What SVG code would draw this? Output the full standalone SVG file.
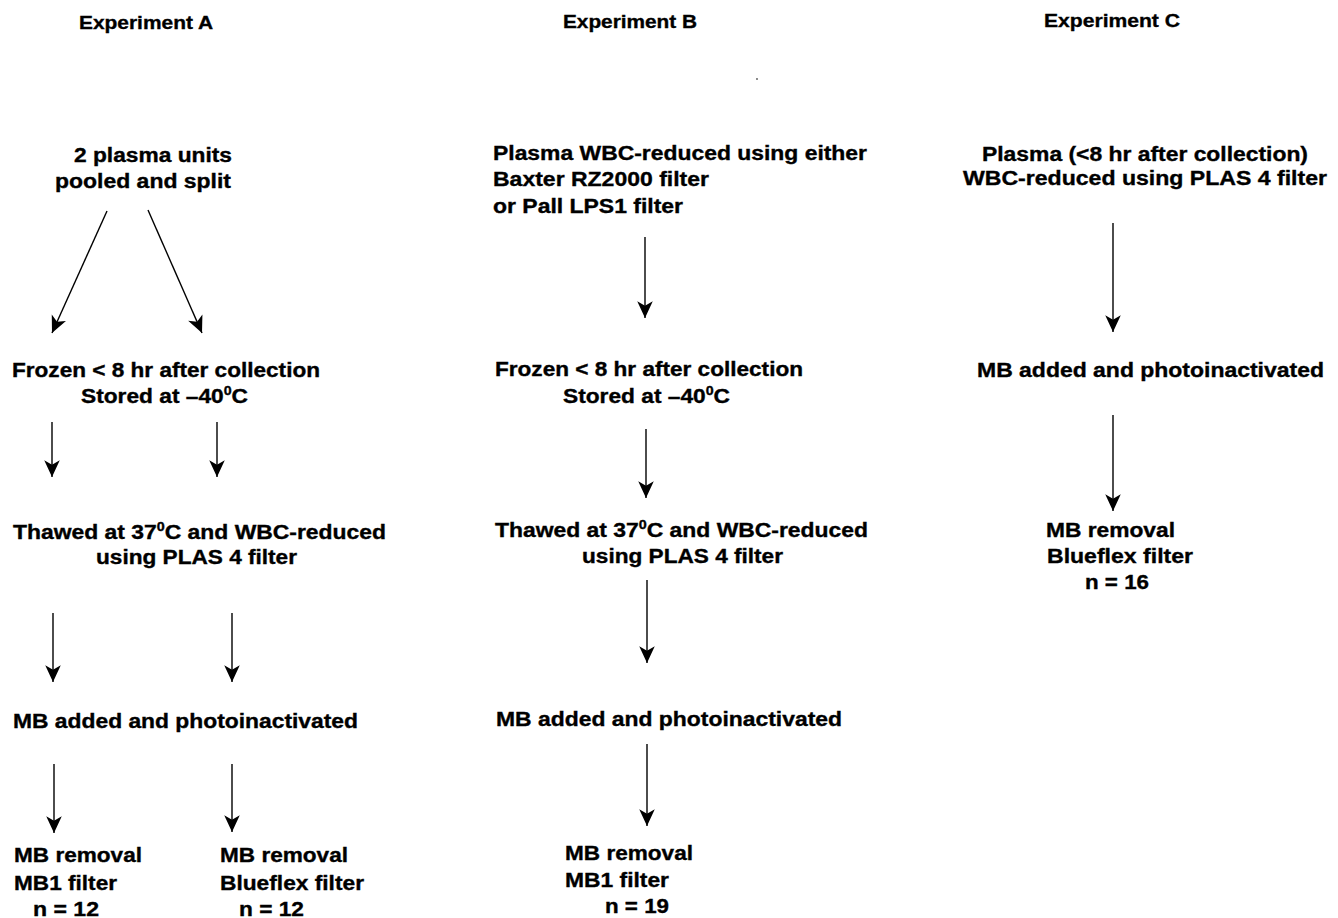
<svg xmlns="http://www.w3.org/2000/svg" width="1338" height="918" viewBox="0 0 1338 918">
<style>
text{font-family:"Liberation Sans",Arial,Helvetica,sans-serif;font-weight:bold;font-size:20px;fill:#000;stroke:#000;stroke-width:0.35}
.sup{font-size:12.5px}
.c{stroke:#000;stroke-width:1.4;fill:none}
</style>
<defs>
<marker id="ah" markerUnits="userSpaceOnUse" markerWidth="20" markerHeight="20" viewBox="-16 -8 18 16" refX="0" refY="0" orient="auto">
<path d="M0,0 L-15,-7 L-11,0 L-15,7 Z" fill="#000"/>
</marker>
</defs>
<rect width="1338" height="918" fill="#fff"/>

<g id="expA">
<g id="titleA"><text x="79" y="29" textLength="134" lengthAdjust="spacingAndGlyphs" style="font-size:18.5px">Experiment A</text></g>
<g id="a1"><text x="74" y="162" textLength="158" lengthAdjust="spacingAndGlyphs">2 plasma units</text><text x="55" y="188" textLength="176" lengthAdjust="spacingAndGlyphs">pooled and split</text></g>
<g id="a2"><text x="12" y="377" textLength="308" lengthAdjust="spacingAndGlyphs">Frozen &lt; 8 hr after collection</text><text x="81" y="403" textLength="167" lengthAdjust="spacingAndGlyphs">Stored at –40<tspan class="sup" dy="-8">0</tspan><tspan dy="8">C</tspan></text></g>
<g id="a3"><text x="13" y="539" textLength="373" lengthAdjust="spacingAndGlyphs">Thawed at 37<tspan class="sup" dy="-8">0</tspan><tspan dy="8">C and WBC-reduced</tspan></text><text x="96" y="564" textLength="201" lengthAdjust="spacingAndGlyphs">using PLAS 4 filter</text></g>
<g id="a4"><text x="13" y="728" textLength="345" lengthAdjust="spacingAndGlyphs">MB added and photoinactivated</text></g>
<g id="a5"><text x="14" y="862" textLength="128" lengthAdjust="spacingAndGlyphs">MB removal</text><text x="14" y="890" textLength="103" lengthAdjust="spacingAndGlyphs">MB1 filter</text><text x="33" y="916" textLength="66" lengthAdjust="spacingAndGlyphs">n = 12</text></g>
<g id="a6"><text x="220" y="862" textLength="128" lengthAdjust="spacingAndGlyphs">MB removal</text><text x="220" y="890" textLength="144" lengthAdjust="spacingAndGlyphs">Blueflex filter</text><text x="239" y="916" textLength="65" lengthAdjust="spacingAndGlyphs">n = 12</text></g>
</g>

<g id="expB">
<g id="titleB"><text x="563" y="28" textLength="134" lengthAdjust="spacingAndGlyphs" style="font-size:18.5px">Experiment B</text></g>
<g id="b1"><text x="493" y="160" textLength="374" lengthAdjust="spacingAndGlyphs">Plasma WBC-reduced using either</text><text x="493" y="186" textLength="216" lengthAdjust="spacingAndGlyphs">Baxter RZ2000 filter</text><text x="493" y="213" textLength="190" lengthAdjust="spacingAndGlyphs">or Pall LPS1 filter</text></g>
<g id="b2"><text x="495" y="376" textLength="308" lengthAdjust="spacingAndGlyphs">Frozen &lt; 8 hr after collection</text><text x="563" y="403" textLength="167" lengthAdjust="spacingAndGlyphs">Stored at –40<tspan class="sup" dy="-8">0</tspan><tspan dy="8">C</tspan></text></g>
<g id="b3"><text x="495" y="537" textLength="373" lengthAdjust="spacingAndGlyphs">Thawed at 37<tspan class="sup" dy="-8">0</tspan><tspan dy="8">C and WBC-reduced</tspan></text><text x="582" y="563" textLength="201" lengthAdjust="spacingAndGlyphs">using PLAS 4 filter</text></g>
<g id="b4"><text x="496" y="726" textLength="346" lengthAdjust="spacingAndGlyphs">MB added and photoinactivated</text></g>
<g id="b5"><text x="565" y="860" textLength="128" lengthAdjust="spacingAndGlyphs">MB removal</text><text x="565" y="887" textLength="104" lengthAdjust="spacingAndGlyphs">MB1 filter</text><text x="605" y="913" textLength="64" lengthAdjust="spacingAndGlyphs">n = 19</text></g>
<circle cx="757" cy="79" r="0.9" fill="#555"/>
</g>

<g id="expC">
<g id="titleC"><text x="1044" y="27" textLength="136" lengthAdjust="spacingAndGlyphs" style="font-size:18.5px">Experiment C</text></g>
<g id="c1"><text x="982" y="161" textLength="326" lengthAdjust="spacingAndGlyphs">Plasma (&lt;8 hr after collection)</text><text x="963" y="185" textLength="364" lengthAdjust="spacingAndGlyphs">WBC-reduced using PLAS 4 filter</text></g>
<g id="c2"><text x="977" y="377" textLength="347" lengthAdjust="spacingAndGlyphs">MB added and photoinactivated</text></g>
<g id="c3"><text x="1046" y="537" textLength="129" lengthAdjust="spacingAndGlyphs">MB removal</text><text x="1047" y="563" textLength="146" lengthAdjust="spacingAndGlyphs">Blueflex filter</text><text x="1085" y="589" textLength="64" lengthAdjust="spacingAndGlyphs">n = 16</text></g>
</g>

<g id="connectors">
<line class="c" x1="107" y1="211" x2="52" y2="333" marker-end="url(#ah)"/>
<line class="c" x1="148" y1="210" x2="202" y2="333" marker-end="url(#ah)"/>
<line class="c" x1="52" y1="422" x2="52" y2="477" marker-end="url(#ah)"/>
<line class="c" x1="217" y1="422" x2="217" y2="477" marker-end="url(#ah)"/>
<line class="c" x1="53" y1="613" x2="53" y2="682" marker-end="url(#ah)"/>
<line class="c" x1="232" y1="613" x2="232" y2="682" marker-end="url(#ah)"/>
<line class="c" x1="54" y1="764" x2="54" y2="833" marker-end="url(#ah)"/>
<line class="c" x1="232" y1="764" x2="232" y2="832" marker-end="url(#ah)"/>
<line class="c" x1="645" y1="237" x2="645" y2="318" marker-end="url(#ah)"/>
<line class="c" x1="646" y1="429" x2="646" y2="498" marker-end="url(#ah)"/>
<line class="c" x1="647" y1="580" x2="647" y2="663" marker-end="url(#ah)"/>
<line class="c" x1="647" y1="744" x2="647" y2="826" marker-end="url(#ah)"/>
<line class="c" x1="1113" y1="223" x2="1113" y2="332" marker-end="url(#ah)"/>
<line class="c" x1="1113" y1="415" x2="1113" y2="511" marker-end="url(#ah)"/>
</g>
</svg>
